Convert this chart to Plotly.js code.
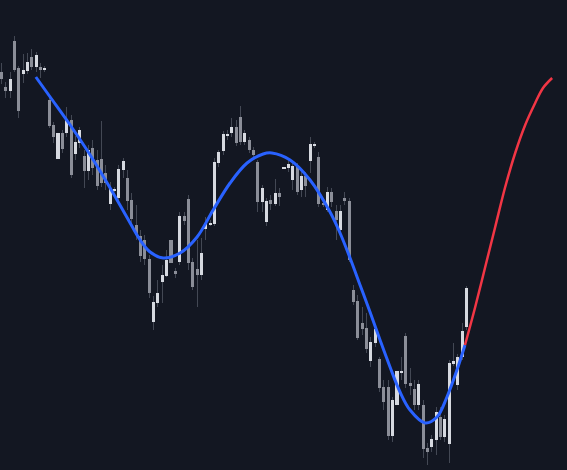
<!DOCTYPE html>
<html>
<head>
<meta charset="utf-8">
<script src="https://cdn.plot.ly/plotly-3.0.1.min.js"></script>
<style>html,body{margin:0;padding:0;background:#131722;}#chart{width:567px;height:470px;}</style>
</head>
<body>
<div id="chart"></div>
<script>
// Candles (bar number, OHLC)
const open  = [428,413,409,459,432,426,429,443,433,433,430,400,375,341,367,367,380,346,357,344,329,352,340,341,327,296,309.5,302,330,322,300,275,264,260,241,178,197,218,224,260,229,238,284,301,238,231,225,271,275.5,276,337,349,364.5,367,373,383,358,360,350,338,298,278,300,296,307,331.5,332,320,333,310,324,339,354,343,297,290,308,289,270,302,299,210,199,177,172,139,157,141,113,113,64,95,127.5,164,117,111,95,95,52,53,60,83,63,56,136,115,143,173];
const high  = [437,418,428,464,434,446,447,451,448,437,434,403,378,370,370,393,385,364,373,350,355,360,350,379,335,318,313,335,342,330,307,295,270,265,245,204,220,235,250,262,232,288,288,305,242,260,262,283,280,342,350,369,370,382,380,394,370,363,353,340,315,302,305,321,312,340,339,340,337,328,328,363,358,348,300,313,312,295,295,308,302,215,205,193,187,163,175,143,120,120,103,133,143,167,132,120,120,100,57,65,93,93,85,140,157,146,177,214];
const low   = [416,402,402,428,382,417,426,430,428,422,428,372,357,335,347,363,322,340,352,312,320,325,310,313,310,290,308,295,322,290,273,260,238,235,202,170,193,197,223,232,222,235,275,230,210,193,220,260,274,274,333,345,360,363,354,355,355,347,343,288,288,274,290,294,294,315,328,310,305,303,303,327,352,293,293,288,293,260,267,295,238,195,160,165,147,133,153,108,90,60,58,93,120,112,105,90,90,42,35,48,45,60,58,37,134,110,140,170];
const close = [421,409,421,430,389,430,438,433,445,430,432,374,363,367,351,381,325,358,370,329,350,332,314,317,317,311,311,331,339,299,281,265,244,241,207,198,207,225,240,237,226,284,279,237,213,225,247,276,277,338,348,366,366,373,357,358,367,350,345,298,312,299,296,307,303,333,336,334,308,324,314,356,356,296,295.5,308,298,280,289,299,240,198,162,171,151,158,171,112,98,64,100,129,129,116,114,95,116,51,48,61,88,63,81,137,139,143,169,212];

// Smoothed curve (bar number, value)
const fitX   = [7.9,11.2,15.8,20.4,25.0,29.6,31.9,34.2,37.2,41.1,45.0,48.7,52.6,56.5,60.2,62.2,66.4,71.0,75.6,77.9,80.2,82.5,84.8,87.1,89.4,91.7,94.0,97.5,100.2,102.5,104.8,106.65];
const fitY   = [423,403,375,345,312,277,260,248,242,247,263,290,317,337,346,347,340,320,288,267,242,215,188,160,133,108,90,77,83,103,130,155];
// Projection beyond the last bar
const projX  = [106.65,109.0,111.3,113.6,115.9,118.2,120.5,122.8,124.6,126.7];
const projY  = [155,193,233,273,313,347,375,397,412,422];

const idx = open.map((_, i) => i);
const isUp = open.map((o, i) => close[i] >= o);
const upColor = '#d6d9e0', downColor = '#8b8e98', wickColor = '#434854';

const wicks = {
  type: 'bar', x: idx,
  base: low, y: high.map((h, i) => h - low[i]),
  width: 0.22,
  marker: {color: wickColor, line: {width: 0}},
  hoverinfo: 'skip', showlegend: false
};
const bodies = {
  type: 'bar', x: idx,
  base: open.map((o, i) => Math.min(o, close[i])),
  y: open.map((o, i) => Math.abs(close[i] - o)),
  width: 0.7,
  marker: {color: isUp.map(u => u ? upColor : downColor), line: {width: 0}},
  hoverinfo: 'skip', showlegend: false
};
const fit = {
  type: 'scatter', mode: 'lines', x: fitX, y: fitY,
  line: {color: '#2962ff', width: 3, shape: 'spline', smoothing: 1},
  showlegend: false
};
const proj = {
  type: 'scatter', mode: 'lines', x: projX, y: projY,
  line: {color: '#f23645', width: 2.5, shape: 'spline', smoothing: 1},
  showlegend: false
};

const layout = {
  width: 567, height: 470,
  margin: {l: 0, r: 0, t: 0, b: 0, pad: 0},
  paper_bgcolor: '#131722', plot_bgcolor: '#131722',
  barmode: 'overlay', bargap: 0,
  xaxis: {range: [-0.345, 130.12], visible: false, showgrid: false, zeroline: false, fixedrange: true},
  yaxis: {range: [30, 500], visible: false, showgrid: false, zeroline: false, fixedrange: true},
  showlegend: false
};
Plotly.newPlot('chart', [wicks, bodies, fit, proj], layout, {displayModeBar: false, staticPlot: true});
</script>
</body>
</html>
